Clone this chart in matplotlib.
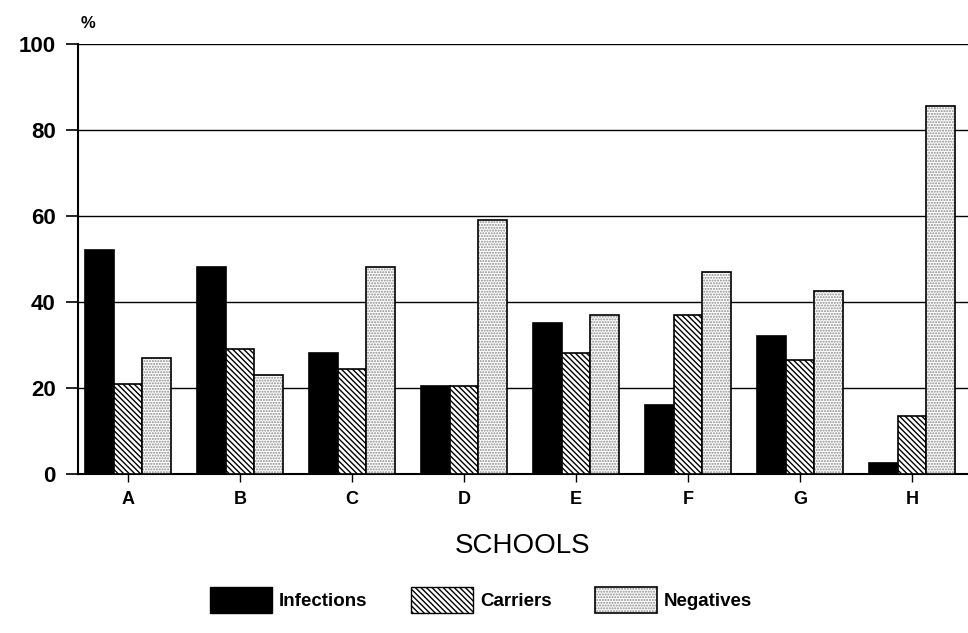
import matplotlib
matplotlib.use("Agg")
import matplotlib.pyplot as plt
import numpy as np
from matplotlib.patches import Patch
from matplotlib.legend_handler import HandlerTuple

# ── Données ────────────────────────────────────────────────────────────────────
schools = ["A", "B", "C", "D", "E", "F", "G", "H"]
infections = [52, 48, 28, 20.5, 35, 16, 32, 2.5]
carriers = [21, 29, 24.5, 20.5, 28, 37, 26.5, 13.5]
negatives = [27, 23, 48, 59, 37, 47, 42.5, 85.5]

plt.rcParams["font.family"] = ["Liberation Sans", "DejaVu Sans"]
plt.rcParams["hatch.linewidth"] = 1.0

fig = plt.figure(figsize=(9.68, 6.33), dpi=100)
ax = fig.add_axes([0.0806, 0.2512, 0.9194, 0.680])

x = np.arange(len(schools))
w = 0.255
DOTS = "......"
DOT_COL = "#8a8a8a"

ax.bar(x - w, infections, w, color="black", edgecolor="black", linewidth=1.2, zorder=3)
ax.bar(x, carriers, w, color="white", edgecolor="black", hatch="\\\\\\\\\\\\",
       linewidth=1.2, zorder=3)
# pointillé gris puis contour noir
ax.bar(x + w, negatives, w, color="white", edgecolor=DOT_COL, hatch=DOTS,
       linewidth=0, zorder=3)
ax.bar(x + w, negatives, w, fill=False, edgecolor="black", linewidth=1.2, zorder=4)

ax.set_xlim(-0.446, 7.5)
ax.set_ylim(0, 100)
ax.set_yticks([0, 20, 40, 60, 80, 100])
ax.grid(axis="y", color="black", linewidth=1.0, zorder=0)
ax.set_axisbelow(True)

for s in ["top", "right"]:
    ax.spines[s].set_visible(False)
ax.spines["left"].set_linewidth(1.5)
ax.spines["bottom"].set_linewidth(1.5)

ax.tick_params(axis="y", length=9, width=1.2, pad=7, labelsize=16)
ax.tick_params(axis="x", length=6, width=1.0, pad=6, labelsize=13)
for lab in ax.get_yticklabels():
    lab.set_fontweight("bold")
ax.set_xticks(x)
ax.set_xticklabels(schools, fontweight="bold")

ax.set_xlabel("SCHOOLS", fontsize=20, labelpad=18)
fig.text(0.091, 0.963, "%", fontsize=12, fontweight="bold", ha="center", va="center")

neg_handle = (Patch(facecolor="white", edgecolor=DOT_COL, hatch=DOTS, linewidth=0),
              Patch(fill=False, edgecolor="black", linewidth=1.2))
handles = [
    Patch(facecolor="black", edgecolor="black"),
    Patch(facecolor="white", edgecolor="black", hatch="\\\\\\\\\\\\"),
    neg_handle,
]
labels = ["Infections", "Carriers", "Negatives"]
fig.legend(handles, labels, loc="center", bbox_to_anchor=(0.497, 0.052), ncol=3,
           frameon=False, handlelength=3.3, handleheight=1.7, columnspacing=2.3,
           handletextpad=0.4, prop={"size": 13.5, "weight": "bold"},
           handler_map={tuple: HandlerTuple(ndivide=1, pad=0)})

fig.savefig("out.png", dpi=100)
